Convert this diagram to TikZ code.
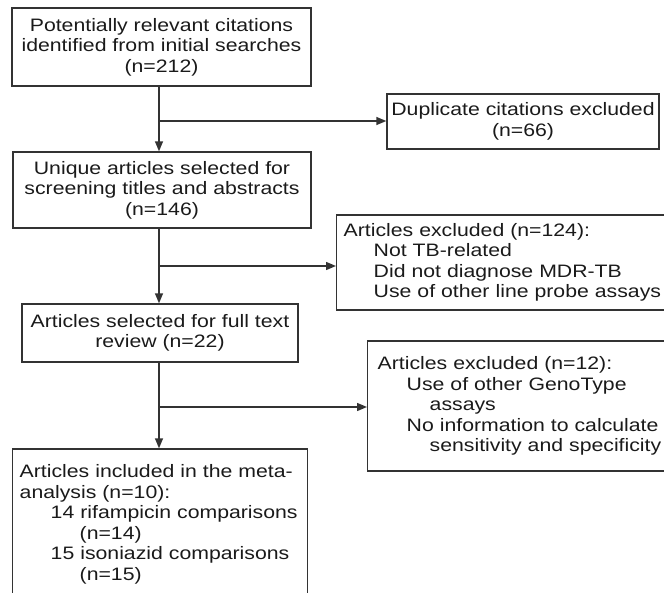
\documentclass[tikz,border=0pt]{standalone}
\usepackage{fontspec}
\setmainfont[FakeStretch=1.18]{Liberation Sans}
\usepackage{tikz}
\usetikzlibrary{arrows.meta, positioning, calc}
\definecolor{flowgrey}{HTML}{333333}
\definecolor{flowtext}{HTML}{1A1A1A}

\begin{document}
\begin{tikzpicture}[x=1pt, y=-1pt,
    stagebox/.style={draw=flowgrey, line width=1.4pt, align=center, inner sep=0pt,
      text=flowtext, font=\fontsize{18}{20.5}\selectfont},
    exclbox/.style={draw=flowgrey, line width=1.4pt, align=left, anchor=west, inner ysep=0pt,
      text=flowtext, font=\fontsize{18}{20.5}\selectfont},
    flowarrow/.style={draw=flowgrey, line width=1.4pt, -{Triangle[length=10pt, width=8pt]}}]
  \useasboundingbox (0,0) rectangle (664,592);

  % main column
  \node[stagebox, minimum width=299pt, minimum height=78pt] (initial) at (161.5,47)
    {Potentially relevant citations\\identified from initial searches\\(n=212)};
  \node[stagebox, minimum width=298pt, minimum height=76pt] (unique) at (162,190)
    {Unique articles selected for\\screening titles and abstracts\\(n=146)};
  \node[stagebox, minimum width=276pt, minimum height=58pt] (fulltext) at (160,333)
    {Articles selected for full text\\review (n=22)};
  \node[exclbox, inner xsep=7pt, text width=281pt, minimum height=151pt] (included) at (12,524.5)
    {Articles included in the meta-\\analysis (n=10):\\
     \hspace*{31pt}14 rifampicin comparisons\\\hspace*{60pt}(n=14)\\
     \hspace*{31pt}15 isoniazid comparisons\\\hspace*{60pt}(n=15)};

  % exclusions
  \node[stagebox, minimum width=272pt, minimum height=55pt] (duplicate) at (523,121.5)
    {Duplicate citations excluded\\(n=66)};
  \node[exclbox, inner xsep=7pt, text width=350pt, minimum height=95pt] (screenout) at (336,262.5)
    {Articles excluded (n=124):\\\hspace*{30pt}Not TB-related\\
     \hspace*{30pt}Did not diagnose MDR-TB\\\hspace*{30pt}Use of other line probe assays};
  \node[exclbox, inner xsep=10pt, text width=330pt, minimum height=130pt] (reviewout) at (367,406)
    {Articles excluded (n=12):\\\hspace*{29pt}Use of other GenoType\\\hspace*{52pt}assays\\
     \hspace*{29pt}No information to calculate\\\hspace*{52pt}sensitivity and specificity};

  \coordinate (split1) at (159,121);
  \coordinate (split2) at (159,266);
  \coordinate (split3) at (159,407);

  \draw[flowarrow] (initial.south -| split1) -- (unique.north -| split1);
  \draw[flowarrow] (split1) -- (split1 -| duplicate.west);
  \draw[flowarrow] (unique.south -| split2) -- (fulltext.north -| split2);
  \draw[flowarrow] (split2) -- (split2 -| screenout.west);
  \draw[flowarrow] (fulltext.south -| split3) -- (included.north -| split3);
  \draw[flowarrow] (split3) -- (split3 -| reviewout.west);
\end{tikzpicture}
\end{document}
